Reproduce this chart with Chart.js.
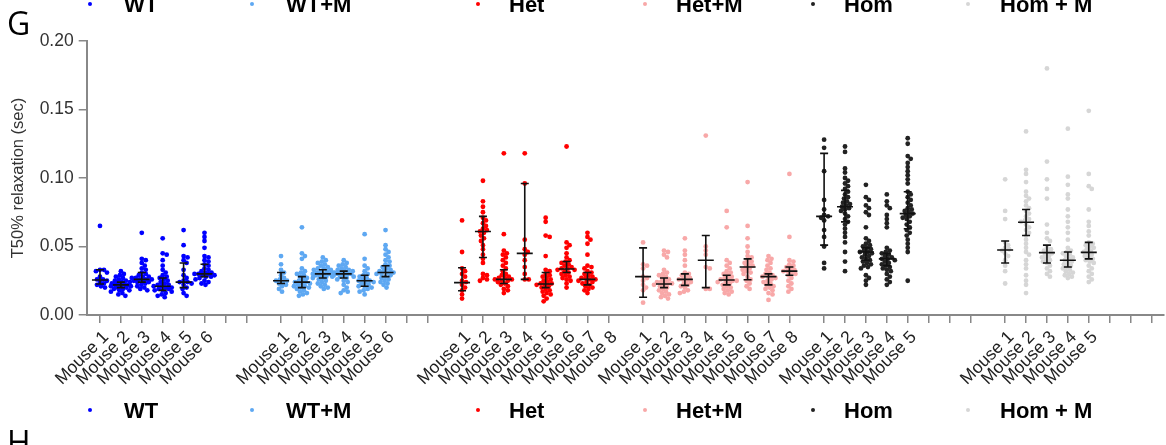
<!DOCTYPE html>
<html>
<head>
<meta charset="utf-8">
<script src="https://cdn.jsdelivr.net/npm/chart.js@4.4.1/dist/chart.umd.min.js"></script>
<style>
  body { margin: 0; background: #fff; }
  #wrap { width: 1166px; height: 445px; position: relative; }
</style>
</head>
<body>
<div id="wrap"><canvas id="relax" width="1166" height="445"></canvas></div>
<script>
// groups + mice per group (each group has 8 slots on the axis)
const groups = ["WT", "WT+M", "Het", "Het+M", "Hom", "Hom + M"];
const miceCount = [6, 6, 8, 8, 5, 5];
const mouseLabels = ["Mouse 1", "Mouse 2", "Mouse 3", "Mouse 4", "Mouse 5", "Mouse 6", "Mouse 7", "Mouse 8"];
const yTicks = [0, 0.05, 0.10, 0.15, 0.20];

// T50% relaxation (sec), one list per mouse
const wtMice = [
  [0.065, 0.033, 0.033, 0.032, 0.031, 0.028, 0.026, 0.026, 0.025, 0.024, 0.023, 0.022, 0.021, 0.020],
  [0.032, 0.030, 0.029, 0.028, 0.027, 0.026, 0.025, 0.025, 0.024, 0.024, 0.023, 0.023, 0.022, 0.022, 0.022, 0.021, 0.021, 0.021, 0.020, 0.020, 0.019, 0.019, 0.018, 0.018, 0.017, 0.016, 0.015, 0.014],
  [0.060, 0.041, 0.040, 0.038, 0.036, 0.034, 0.033, 0.031, 0.030, 0.029, 0.028, 0.028, 0.027, 0.027, 0.026, 0.026, 0.026, 0.025, 0.025, 0.024, 0.024, 0.023, 0.022, 0.021, 0.020, 0.019, 0.018],
  [0.056, 0.045, 0.044, 0.040, 0.036, 0.033, 0.031, 0.029, 0.028, 0.027, 0.026, 0.025, 0.024, 0.023, 0.022, 0.022, 0.021, 0.021, 0.020, 0.020, 0.019, 0.019, 0.018, 0.018, 0.017, 0.016, 0.015, 0.014, 0.013],
  [0.062, 0.051, 0.043, 0.042, 0.040, 0.038, 0.033, 0.029, 0.027, 0.025, 0.024, 0.024, 0.023, 0.022, 0.020, 0.019, 0.016, 0.014],
  [0.060, 0.057, 0.054, 0.049, 0.043, 0.042, 0.040, 0.039, 0.037, 0.036, 0.034, 0.033, 0.032, 0.031, 0.031, 0.030, 0.030, 0.030, 0.029, 0.029, 0.028, 0.028, 0.027, 0.026, 0.025, 0.024, 0.023, 0.022]
];
const wtmMice = [
  [0.043, 0.037, 0.033, 0.031, 0.029, 0.027, 0.026, 0.025, 0.025, 0.024, 0.023, 0.022, 0.021, 0.019, 0.017],
  [0.064, 0.045, 0.043, 0.041, 0.034, 0.032, 0.031, 0.030, 0.029, 0.028, 0.027, 0.026, 0.025, 0.024, 0.024, 0.023, 0.023, 0.022, 0.021, 0.021, 0.020, 0.020, 0.019, 0.018, 0.017, 0.016, 0.015, 0.014],
  [0.042, 0.040, 0.039, 0.038, 0.037, 0.036, 0.035, 0.034, 0.034, 0.033, 0.033, 0.032, 0.032, 0.031, 0.031, 0.030, 0.030, 0.030, 0.029, 0.029, 0.028, 0.028, 0.027, 0.027, 0.026, 0.025, 0.024, 0.023, 0.022, 0.021, 0.020, 0.019],
  [0.040, 0.038, 0.037, 0.036, 0.035, 0.034, 0.033, 0.033, 0.032, 0.032, 0.031, 0.031, 0.030, 0.030, 0.030, 0.029, 0.029, 0.028, 0.028, 0.027, 0.026, 0.025, 0.024, 0.022, 0.020, 0.018, 0.017, 0.016],
  [0.059, 0.041, 0.036, 0.034, 0.032, 0.030, 0.029, 0.028, 0.027, 0.026, 0.025, 0.025, 0.024, 0.024, 0.023, 0.022, 0.021, 0.021, 0.020, 0.019, 0.018, 0.017, 0.015],
  [0.062, 0.051, 0.048, 0.046, 0.044, 0.042, 0.040, 0.039, 0.037, 0.036, 0.035, 0.034, 0.033, 0.032, 0.032, 0.031, 0.031, 0.030, 0.030, 0.029, 0.028, 0.027, 0.026, 0.025, 0.024, 0.023, 0.022, 0.020]
];
const hetMice = [
  [0.069, 0.046, 0.034, 0.032, 0.030, 0.028, 0.025, 0.024, 0.022, 0.020, 0.018, 0.015, 0.012],
  [0.098, 0.083, 0.079, 0.075, 0.071, 0.069, 0.067, 0.065, 0.063, 0.062, 0.061, 0.060, 0.058, 0.056, 0.054, 0.051, 0.048, 0.044, 0.041, 0.038, 0.030, 0.029, 0.027, 0.026, 0.025],
  [0.118, 0.059, 0.047, 0.045, 0.044, 0.042, 0.040, 0.038, 0.036, 0.034, 0.032, 0.030, 0.029, 0.028, 0.027, 0.027, 0.026, 0.026, 0.025, 0.025, 0.024, 0.023, 0.022, 0.021, 0.019, 0.018, 0.016],
  [0.118, 0.096, 0.055, 0.048, 0.046, 0.044, 0.040, 0.035, 0.030, 0.026, 0.026],
  [0.071, 0.068, 0.058, 0.057, 0.043, 0.033, 0.032, 0.030, 0.029, 0.028, 0.027, 0.026, 0.025, 0.024, 0.023, 0.023, 0.022, 0.022, 0.021, 0.020, 0.019, 0.018, 0.017, 0.016, 0.015, 0.014, 0.012, 0.010],
  [0.123, 0.053, 0.051, 0.049, 0.045, 0.042, 0.040, 0.039, 0.038, 0.037, 0.036, 0.035, 0.034, 0.034, 0.033, 0.033, 0.032, 0.031, 0.030, 0.029, 0.028, 0.027, 0.026, 0.025, 0.023, 0.020],
  [0.060, 0.057, 0.055, 0.052, 0.044, 0.036, 0.035, 0.034, 0.032, 0.031, 0.030, 0.029, 0.028, 0.027, 0.027, 0.026, 0.026, 0.025, 0.024, 0.024, 0.023, 0.022, 0.021, 0.020, 0.019, 0.018, 0.016],
  []
];
const hetmMice = [
  [0.053, 0.037, 0.036, 0.034, 0.028, 0.027, 0.025, 0.022, 0.020, 0.018, 0.009],
  [0.047, 0.046, 0.044, 0.042, 0.033, 0.031, 0.030, 0.029, 0.028, 0.027, 0.026, 0.025, 0.024, 0.024, 0.023, 0.023, 0.022, 0.022, 0.021, 0.020, 0.019, 0.018, 0.017, 0.016, 0.015, 0.014, 0.013, 0.012],
  [0.056, 0.047, 0.044, 0.040, 0.036, 0.031, 0.030, 0.029, 0.028, 0.027, 0.026, 0.026, 0.025, 0.024, 0.023, 0.022, 0.021, 0.020, 0.018, 0.017, 0.016],
  [0.131, 0.050, 0.047, 0.044, 0.035, 0.034, 0.019, 0.019],
  [0.076, 0.064, 0.040, 0.038, 0.036, 0.034, 0.032, 0.031, 0.030, 0.029, 0.028, 0.027, 0.026, 0.026, 0.025, 0.025, 0.024, 0.024, 0.023, 0.022, 0.021, 0.020, 0.019, 0.018, 0.017, 0.016, 0.015],
  [0.097, 0.065, 0.056, 0.050, 0.046, 0.043, 0.042, 0.040, 0.039, 0.038, 0.037, 0.036, 0.035, 0.034, 0.033, 0.032, 0.031, 0.030, 0.028, 0.026, 0.025, 0.023, 0.021, 0.019],
  [0.043, 0.041, 0.040, 0.038, 0.036, 0.034, 0.033, 0.031, 0.030, 0.029, 0.028, 0.028, 0.027, 0.026, 0.025, 0.024, 0.023, 0.022, 0.021, 0.020, 0.019, 0.018, 0.016, 0.015, 0.011],
  [0.103, 0.057, 0.040, 0.039, 0.037, 0.036, 0.035, 0.034, 0.033, 0.032, 0.032, 0.031, 0.030, 0.029, 0.027, 0.025, 0.023, 0.021, 0.019, 0.017]
];
const homMice = [
  [0.128, 0.122, 0.105, 0.084, 0.077, 0.073, 0.072, 0.071, 0.069, 0.062, 0.057, 0.050, 0.038, 0.034],
  [0.123, 0.119, 0.107, 0.104, 0.100, 0.098, 0.096, 0.094, 0.092, 0.090, 0.088, 0.086, 0.085, 0.083, 0.082, 0.081, 0.080, 0.079, 0.078, 0.077, 0.076, 0.074, 0.072, 0.070, 0.068, 0.066, 0.063, 0.060, 0.057, 0.053, 0.046, 0.039, 0.032],
  [0.095, 0.086, 0.084, 0.080, 0.078, 0.075, 0.073, 0.064, 0.056, 0.054, 0.052, 0.051, 0.050, 0.049, 0.048, 0.047, 0.046, 0.046, 0.045, 0.044, 0.043, 0.042, 0.041, 0.040, 0.039, 0.038, 0.037, 0.036, 0.035, 0.034, 0.029, 0.027, 0.025, 0.022],
  [0.088, 0.083, 0.080, 0.078, 0.073, 0.070, 0.067, 0.064, 0.049, 0.047, 0.046, 0.045, 0.044, 0.043, 0.042, 0.041, 0.041, 0.040, 0.039, 0.038, 0.037, 0.036, 0.035, 0.034, 0.033, 0.032, 0.030, 0.028, 0.026, 0.024, 0.022],
  [0.129, 0.125, 0.116, 0.114, 0.111, 0.108, 0.105, 0.102, 0.099, 0.096, 0.090, 0.088, 0.086, 0.084, 0.082, 0.080, 0.078, 0.077, 0.076, 0.075, 0.074, 0.073, 0.072, 0.071, 0.070, 0.068, 0.066, 0.064, 0.062, 0.060, 0.058, 0.055, 0.052, 0.049, 0.046, 0.025]
];
const hommMice = [
  [0.099, 0.076, 0.070, 0.053, 0.051, 0.049, 0.048, 0.047, 0.045, 0.043, 0.040, 0.036, 0.032, 0.023],
  [0.134, 0.106, 0.103, 0.097, 0.090, 0.087, 0.085, 0.083, 0.080, 0.078, 0.076, 0.074, 0.072, 0.070, 0.069, 0.068, 0.066, 0.064, 0.062, 0.060, 0.058, 0.055, 0.052, 0.049, 0.046, 0.044, 0.040, 0.037, 0.034, 0.029, 0.025, 0.022, 0.016],
  [0.180, 0.112, 0.099, 0.092, 0.085, 0.066, 0.060, 0.056, 0.054, 0.049, 0.048, 0.047, 0.046, 0.045, 0.044, 0.043, 0.042, 0.041, 0.040, 0.039, 0.038, 0.036, 0.034, 0.032, 0.030, 0.028],
  [0.136, 0.101, 0.095, 0.088, 0.085, 0.077, 0.072, 0.068, 0.064, 0.060, 0.055, 0.049, 0.047, 0.046, 0.045, 0.044, 0.043, 0.042, 0.041, 0.040, 0.039, 0.038, 0.037, 0.036, 0.035, 0.034, 0.033, 0.032, 0.031, 0.030, 0.029, 0.028, 0.027],
  [0.149, 0.103, 0.094, 0.092, 0.077, 0.068, 0.065, 0.061, 0.058, 0.053, 0.052, 0.051, 0.050, 0.049, 0.048, 0.047, 0.046, 0.045, 0.044, 0.043, 0.042, 0.041, 0.040, 0.039, 0.038, 0.036, 0.034, 0.032, 0.030, 0.028, 0.026, 0.024]
];

// median and error bar ends
const medians = [
  [0.0255, 0.022, 0.026, 0.021, 0.024, 0.030],
  [0.025, 0.024, 0.030, 0.030, 0.025, 0.031],
  [0.0236, 0.061, 0.026, 0.045, 0.0226, 0.0336, 0.026, null],
  [0.028, 0.0226, 0.026, 0.040, 0.0255, 0.035, 0.028, 0.032],
  [0.072, 0.079, 0.046, 0.041, 0.074],
  [0.0475, 0.0677, 0.0455, 0.040, 0.0457]
];
const barLow = [
  [0.0226, 0.020, 0.024, 0.018, 0.020, 0.028],
  [0.023, 0.020, 0.027, 0.027, 0.021, 0.028],
  [0.0177, 0.042, 0.023, 0.026, 0.020, 0.031, 0.022, null],
  [0.013, 0.020, 0.0216, 0.020, 0.022, 0.0257, 0.022, 0.029],
  [0.051, 0.068, 0.040, 0.036, 0.063],
  [0.038, 0.058, 0.038, 0.035, 0.041]
];
const barHigh = [
  [0.033, 0.024, 0.031, 0.027, 0.038, 0.037],
  [0.031, 0.028, 0.033, 0.032, 0.029, 0.036],
  [0.0345, 0.072, 0.033, 0.096, 0.031, 0.039, 0.031, null],
  [0.049, 0.027, 0.030, 0.058, 0.029, 0.041, 0.030, 0.035],
  [0.118, 0.091, 0.049, 0.045, 0.090],
  [0.054, 0.077, 0.051, 0.046, 0.053]
];

const groupMice = [wtMice, wtmMice, hetMice, hetmMice, homMice, hommMice];
const groupColors = ["#0000ff", "#5ea8f2", "#ff0000", "#f8a8a8", "#222222", "#d6d6d6"];

// axis geometry: 8 slots per group, small extra gap between groups
const SLOTS = 8;
const GROUP_STEP = 8.66;
const slotX = (g, s) => g * GROUP_STEP + s;

const tickValues = [];
const tickLabels = [];
groups.forEach((g, gi) => {
  for (let s = 0; s < SLOTS; s++) {
    tickValues.push(slotX(gi, s));
    tickLabels.push(s < miceCount[gi] ? mouseLabels[s] : "");
  }
});

// simple beeswarm, offsets worked out in approx pixel units, capped width
const PX_PER_Y = 1370, PX_PER_X = 20.95, DOT = 3.8, MAX_OFF = 10;
function swarm(values, cx) {
  const placed = [];
  const sorted = values.slice().sort((a, b) => b - a);
  return sorted.map(v => {
    const py = v * PX_PER_Y;
    let off = 0, bestGap = -1;
    for (let k = 0; k <= MAX_OFF * 4; k++) {
      const cand = (k % 2 ? 1 : -1) * Math.ceil(k / 2) * 0.5;
      let gap = Infinity;
      placed.forEach(p => { gap = Math.min(gap, Math.hypot(cand - p.off, py - p.py)); });
      if (gap >= DOT) { off = cand; bestGap = gap; break; }
      if (gap > bestGap) { bestGap = gap; off = cand; }
    }
    placed.push({ off, py });
    return { x: cx + off / PX_PER_X, y: v };
  });
}

const datasets = groups.map((name, gi) => ({
  label: name,
  data: groupMice[gi].flatMap((vals, s) => swarm(vals, slotX(gi, s))),
  backgroundColor: groupColors[gi],
  borderWidth: 0,
  pointRadius: 2.4,
  pointHoverRadius: 2.4
}));

const errorBars = {
  id: "errorBars",
  afterDatasetsDraw(chart) {
    const { ctx, scales: { x, y } } = chart;
    ctx.save();
    ctx.strokeStyle = "#111";
    ctx.lineWidth = 1.6;
    medians.forEach((row, gi) => {
      row.forEach((m, s) => {
        if (m == null) return;
        const px = x.getPixelForValue(slotX(gi, s));
        const pm = y.getPixelForValue(m);
        const pl = y.getPixelForValue(barLow[gi][s]);
        const ph = y.getPixelForValue(barHigh[gi][s]);
        ctx.beginPath();
        ctx.moveTo(px - 8, pm); ctx.lineTo(px + 8, pm);
        ctx.moveTo(px, pl); ctx.lineTo(px, ph);
        ctx.moveTo(px - 4, pl); ctx.lineTo(px + 4, pl);
        ctx.moveTo(px - 4, ph); ctx.lineTo(px + 4, ph);
        ctx.stroke();
      });
    });
    ctx.restore();
  }
};

// legend drawn twice (top one cut by the crop), plus panel letters
const legendDotX = [90, 252, 478, 645, 813, 968];
const legendTextX = [124, 286, 509, 676, 844, 1000];
const figureLegend = {
  id: "figureLegend",
  afterDraw(chart) {
    const ctx = chart.ctx;
    ctx.save();
    [12, 418].forEach(base => {
      chart.data.datasets.forEach((ds, i) => {
        ctx.fillStyle = ds.backgroundColor;
        ctx.beginPath();
        ctx.arc(legendDotX[i], base - 8, 2, 0, Math.PI * 2);
        ctx.fill();
        ctx.fillStyle = "#000";
        ctx.font = "bold 22px 'Liberation Sans', Arial, sans-serif";
        ctx.textBaseline = "alphabetic";
        ctx.fillText(ds.label, legendTextX[i], base);
      });
    });
    ctx.fillStyle = "#000";
    ctx.font = "32px 'Open Sans', sans-serif";
    ctx.fillText("G", 7, 35);
    ctx.fillText("H", 7, 454);
    ctx.restore();
  }
};

new Chart(document.getElementById("relax"), {
  type: "scatter",
  data: { datasets },
  plugins: [errorBars, figureLegend],
  options: {
    responsive: false,
    animation: false,
    layout: { padding: { top: 41, left: 0, right: 0, bottom: 0 } },
    plugins: { legend: { display: false }, tooltip: { enabled: false } },
    scales: {
      x: {
        type: "linear",
        min: -0.635,
        max: 50.88,
        afterBuildTicks: scale => { scale.ticks = tickValues.map(v => ({ value: v })); },
        afterFit: scale => { scale.height = 130; scale.paddingRight = 0; scale.paddingLeft = 0; },
        grid: { drawOnChartArea: false, drawTicks: true, tickLength: 8, color: "#888", lineWidth: 1.5 },
        border: { color: "#888", width: 2 },
        ticks: {
          autoSkip: false,
          maxRotation: 45,
          minRotation: 45,
          padding: 4,
          labelOffset: 6,
          color: "#222",
          font: { family: "'Liberation Sans', Arial, sans-serif", size: 17.5 },
          callback: (v, i) => tickLabels[i]
        }
      },
      y: {
        min: 0,
        max: 0.2,
        afterBuildTicks: scale => { scale.ticks = yTicks.map(v => ({ value: v })); },
        afterFit: scale => { scale.width = 86.7; },
        grid: { drawOnChartArea: false, drawTicks: true, tickLength: 8, color: "#888", lineWidth: 1.5 },
        border: { color: "#888", width: 2 },
        ticks: {
          padding: 5,
          color: "#333",
          font: { family: "'Liberation Sans', Arial, sans-serif", size: 17.5 },
          callback: v => v.toFixed(2)
        },
        title: {
          display: true,
          text: "T50% relaxation (sec)",
          color: "#333",
          padding: { top: 9, bottom: 0 },
          font: { family: "'Liberation Sans', Arial, sans-serif", size: 16.5 }
        }
      }
    }
  }
});
</script>
</body>
</html>
